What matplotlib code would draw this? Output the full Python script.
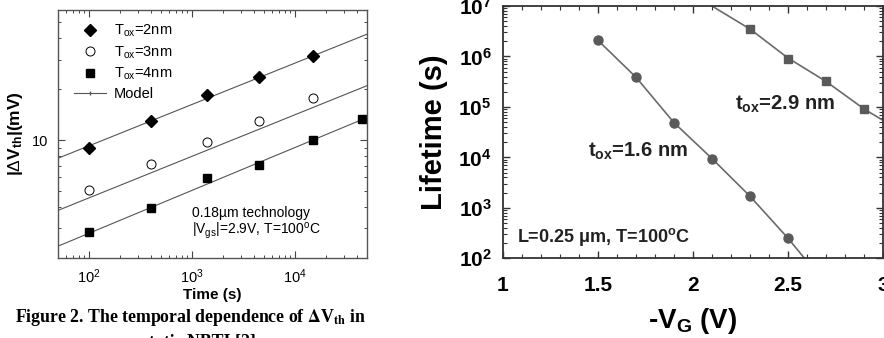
import math
import matplotlib
matplotlib.use("Agg")
import matplotlib.pyplot as plt
from matplotlib.ticker import LogLocator, NullFormatter, FixedLocator, MultipleLocator, FixedFormatter, FuncFormatter

plt.rcParams['font.family'] = ['Liberation Sans', 'DejaVu Sans']
plt.rcParams['mathtext.fontset'] = 'custom'
plt.rcParams['mathtext.rm'] = 'Liberation Sans'
plt.rcParams['mathtext.it'] = 'Liberation Sans:italic'
plt.rcParams['mathtext.bf'] = 'Liberation Sans:bold'

# ---- left panel data ----
time_s = [100, 400, 1400, 4500, 15000]
dvth_2nm = [9.0, 13.0, 18.4, 23.5, 31.3]
dvth_3nm = [5.06, 7.26, 9.68, 13.0, 17.8]
time_4nm = [100, 400, 1400, 4500, 15000, 45000]
dvth_4nm = [2.85, 3.97, 5.94, 7.16, 10.0, 13.4]
model_t = [50, 50000]
model_2nm = [7.8, 42.4]
model_3nm = [3.83, 21.0]
model_4nm = [2.35, 13.6]

# ---- right panel data ----
vg_16 = [1.5, 1.7, 1.9, 2.1, 2.3, 2.5]
life_16 = [2.1e6, 3.9e5, 4.9e4, 9.5e3, 1.7e3, 2.5e2]
vg_16_line = [1.5, 1.7, 1.9, 2.1, 2.3, 2.5, 2.62]
life_16_line = [2.1e6, 3.9e5, 4.9e4, 9.5e3, 1.7e3, 2.5e2, 70]
vg_29 = [2.3, 2.5, 2.7, 2.9]
life_29 = [3.5e6, 9.1e5, 3.2e5, 9.1e4]
vg_29_line = [2.1, 2.3, 2.5, 2.7, 2.9, 3.0]
life_29_line = [1.0e7, 3.5e6, 9.3e5, 3.2e5, 9.1e4, 5.4e4]

fig = plt.figure(figsize=(8.84, 3.38), dpi=100)

# ================= left =================
ax1 = fig.add_axes([0.0656, 0.2367, 0.3495, 0.7337])
ax1.set_xscale('log')
ax1.set_yscale('log')
ax1.set_xlim(50, 50000)
ax1.set_ylim(2.0, 59)
lc = '#555555'
ax1.plot(model_t, model_2nm, '-', color=lc, lw=0.8)
ax1.plot(model_t, model_3nm, '-', color=lc, lw=0.8)
ax1.plot(model_t, model_4nm, '-', color=lc, lw=0.8)
ax1.plot(time_s, dvth_2nm, 'D', color='black', ms=6, ls='none', label=r'T$_\mathrm{ox}$=2nm')
ax1.plot(time_s, dvth_3nm, 'o', mfc='white', mec='black', mew=0.7, ms=6.5, ls='none', label=r'T$_\mathrm{ox}$=3nm')
ax1.plot(time_4nm, dvth_4nm, 's', color='black', ms=6, ls='none', label=r'T$_\mathrm{ox}$=4nm')
ax1.plot([], [], '-', color=lc, lw=0.8, marker='|', ms=2.5, label='Model')
ax1.legend(loc='upper left', frameon=False, fontsize=10.5, handlelength=2.2,
           borderaxespad=0.3, labelspacing=0.35, handletextpad=0.5,
           bbox_to_anchor=(0.02, 0.99))
ax1.yaxis.set_major_locator(FixedLocator([10]))
ax1.yaxis.set_major_formatter(FixedFormatter(['10']))
ax1.yaxis.set_minor_locator(LogLocator(base=10, subs=range(2, 10)))
ax1.yaxis.set_minor_formatter(NullFormatter())
ax1.xaxis.set_minor_locator(LogLocator(base=10, subs=range(2, 10)))
ax1.xaxis.set_minor_formatter(NullFormatter())
ax1.tick_params(which='both', direction='in', top=True, right=True, labelsize=10.5, color='#444444')
ax1.tick_params(which='major', length=5, width=0.8, pad=7)
ax1.tick_params(which='minor', length=2.5, width=0.7)
for s in ax1.spines.values():
    s.set_color('#555555')
    s.set_linewidth(1.0)
ax1.set_xlabel('Time (s)', fontsize=11, fontweight='bold', labelpad=1)
ax1.set_ylabel(r'|$\Delta$V$_\mathbf{th}$|(mV)', fontsize=12.5, fontweight='bold', labelpad=5)
ax1.text(0.435, 0.165, '0.18\u00b5m technology', transform=ax1.transAxes, fontsize=10)
ax1.text(0.435, 0.097, r'|V$_\mathrm{gs}$|=2.9V, T=100$^\mathrm{o}$C', transform=ax1.transAxes, fontsize=10)

fig.text(0.215, 0.046, r'Figure 2. The temporal dependence of $\mathbf{\Delta}$V$_\mathbf{th}$ in',
         ha='center', va='baseline', fontsize=12.8, fontweight='bold', family='Liberation Serif',
         math_fontfamily='stix')
fig.text(0.225, -0.026, 'static NBTI [2]', ha='center', va='baseline', fontsize=12.8,
         fontweight='bold', family='Liberation Serif')

# ================= right =================
ax2 = fig.add_axes([0.5687, 0.2358, 0.4303, 0.7464])
ax2.set_yscale('log')
ax2.set_xlim(1, 3)
ax2.set_ylim(1e2, 1e7)
gc = '#5a5a5a'
ax2.plot(vg_16_line, life_16_line, '-', color='#6a6a6a', lw=1.2)
ax2.plot(vg_29_line, life_29_line, '-', color='#6a6a6a', lw=1.2)
ax2.plot(vg_16, life_16, 'o', color=gc, ms=6.5, ls='none')
ax2.plot(vg_29, life_29, 's', color=gc, ms=6, ls='none')
ax2.xaxis.set_major_locator(FixedLocator([1, 1.5, 2, 2.5, 3]))
ax2.xaxis.set_major_formatter(FixedFormatter(['1', '1.5', '2', '2.5', '3']))
ax2.xaxis.set_minor_locator(MultipleLocator(0.1))
ax2.yaxis.set_major_locator(LogLocator(base=10, numticks=10))
ax2.yaxis.set_minor_locator(LogLocator(base=10, subs=range(2, 10), numticks=20))
ax2.yaxis.set_minor_formatter(NullFormatter())
ax2.yaxis.set_major_formatter(FuncFormatter(
    lambda v, p: r'$\mathbf{10^{%d}}$' % round(math.log10(v))))
ax2.tick_params(which='both', direction='in', top=True, right=True, color='#333333')
ax2.tick_params(which='major', length=5, width=1.0, labelsize=15, pad=8)
ax2.tick_params(axis='x', which='major', pad=13)
ax2.tick_params(which='minor', length=3, width=0.8)
for lab in ax2.get_xticklabels():
    lab.set_fontweight('bold')
for s in ax2.spines.values():
    s.set_color('#333333')
    s.set_linewidth(1.3)
ax2.set_xlabel(r'-V$_\mathbf{G}$ (V)', fontsize=20, fontweight='bold', labelpad=8)
ax2.set_ylabel('Lifetime (s)', fontsize=21, fontweight='bold', labelpad=7)
ax2.text(1.448, 1.03e4, r't$_\mathbf{ox}$=1.6 nm', fontsize=14.5, fontweight='bold',
         color='#222222', va='baseline')
ax2.text(2.22, 8.7e4, r't$_\mathbf{ox}$=2.9 nm', fontsize=14.5, fontweight='bold',
         color='#222222', va='baseline')
ax2.text(1.075, 2.14e2, r'L=0.25 $\mathbf{\mu}$m, T=100$^\mathbf{o}$C', fontsize=13, fontweight='bold',
         color='#222222', va='baseline')

fig.savefig('out.png', dpi=100)
